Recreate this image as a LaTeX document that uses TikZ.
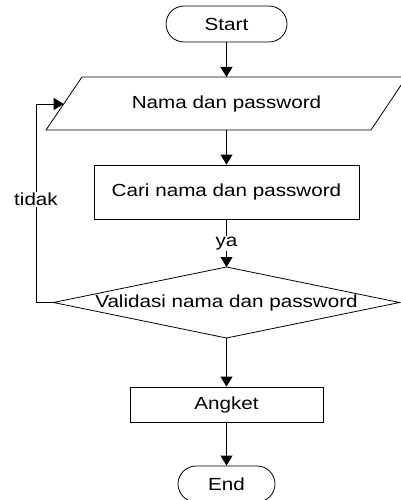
\documentclass[tikz,border=0pt]{standalone}
\usepackage{fontspec}
\setmainfont{Liberation Sans}[FakeStretch=1.18]
\usetikzlibrary{arrows.meta}
\begin{document}
\begin{tikzpicture}[x=1pt,y=-1pt,line width=0.8pt,
  arr/.style={-{Triangle[width=12pt,length=10pt]}},
  txt/.style={font=\fontsize{17.5}{20}\selectfont,inner sep=1pt},
  lbl/.style={txt,fill=white},
  term/.style={txt,draw,rounded corners=18pt,minimum height=36pt},
  proc/.style={txt,draw}]
\useasboundingbox (0,0) rectangle (401,500);
\clip (0,0) rectangle (401,500);
% start
\node[term,minimum width=121pt] (start) at (226.5,24) {Start};
% input parallelogram
\coordinate (pTL) at (82,77);
\coordinate (pTR) at (406.5,77);
\coordinate (pBR) at (371,130);
\coordinate (pBL) at (46,130);
\coordinate (pT) at (226.5,77);
\coordinate (pB) at (226.5,130);
\coordinate (pL) at (63.7,104);
\draw (pTL) -- (pTR) -- (pBR) -- (pBL) -- cycle;
\node[txt] (io) at (226.5,103.5) {Nama dan password};
% process
\node[proc,minimum width=265pt,minimum height=54pt] (cari) at (226.5,192) {Cari nama dan password};
% decision
\coordinate (dT) at (226.5,267);
\coordinate (dB) at (226.5,338);
\coordinate (dL) at (53.5,302.5);
\coordinate (dR) at (399.5,302.5);
\draw (dT) -- (dR) -- (dB) -- (dL) -- cycle;
\node[txt] (val) at (226.5,302.5) {Validasi nama dan password};
% angket
\node[proc,minimum width=193pt,minimum height=35pt] (angket) at (226.5,404.5) {Angket};
% end
\node[term,minimum width=97pt] (end) at (226.5,484) {End};
% loop corners
\coordinate (lb) at (36,302.5);
\coordinate (lt) at (36,104);
% connectors
\draw[arr] (start) -- (pT);
\draw[arr] (pB) -- (cari);
\draw[arr] (cari) -- node[lbl,pos=0.5]{ya} (dT);
\draw[arr] (dL) -- (lb) -- node[lbl,pos=0.52]{tidak} (lt) -- (pL);
\draw[arr] (dB) -- (angket);
\draw[arr] (angket) -- (end);
\end{tikzpicture}
\end{document}
